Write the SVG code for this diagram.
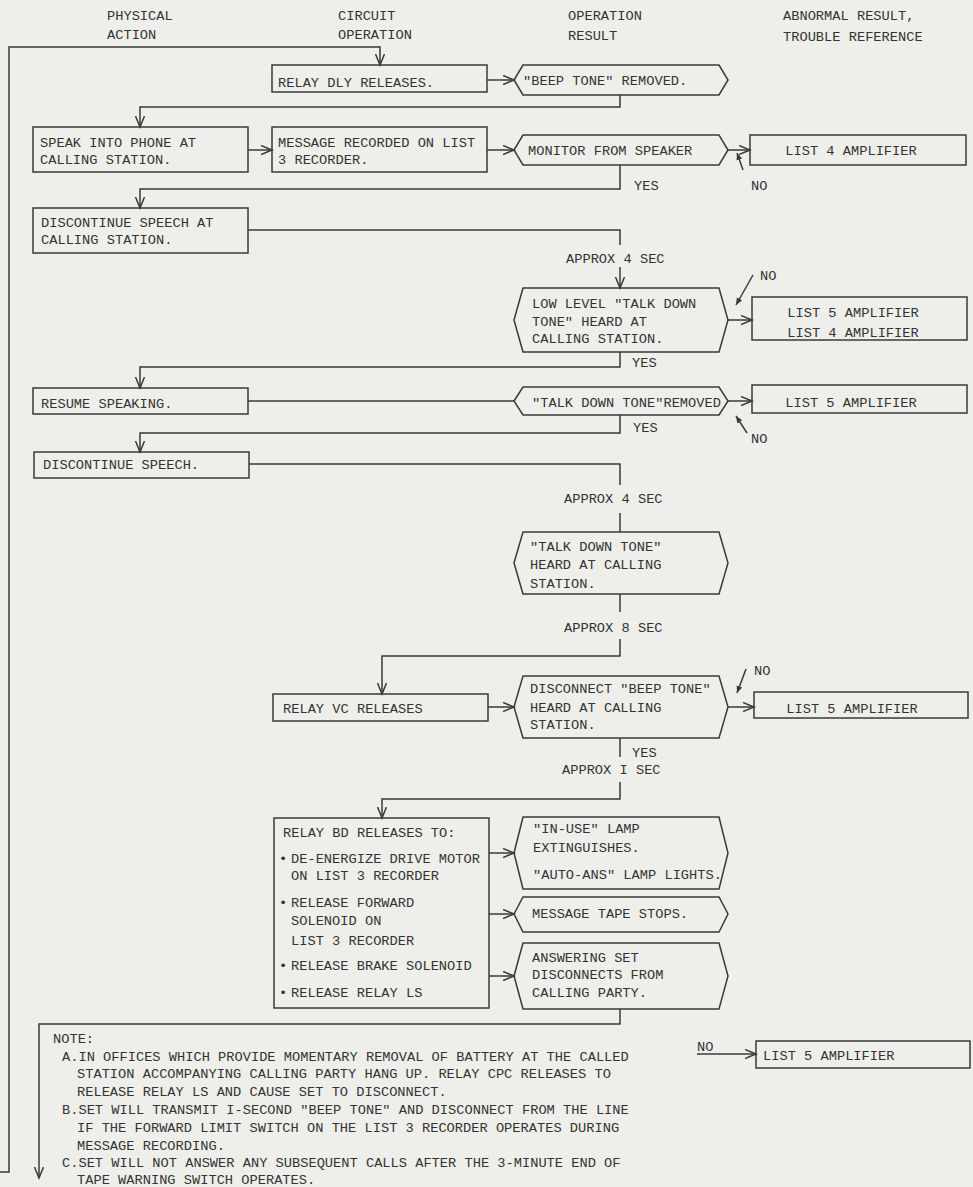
<svg xmlns="http://www.w3.org/2000/svg" width="973" height="1187" viewBox="0 0 973 1187">
<defs>
<style>
text{font-family:"Liberation Mono","DejaVu Sans Mono",monospace;font-size:13.7px;fill:#333}
.n rect,.n polygon{fill:none;stroke:#3a3a3a;stroke-width:1.5}
.c path{fill:none;stroke:#3a3a3a;stroke-width:1.5}
.m{text-anchor:middle}
</style>
<marker id="a" markerUnits="userSpaceOnUse" markerWidth="14" markerHeight="12" refX="11" refY="5" orient="auto">
<path d="M0,0.5 L11,5 L0,9.5" fill="none" stroke="#3a3a3a" stroke-width="1.5"/>
</marker>
<marker id="s" markerUnits="userSpaceOnUse" markerWidth="10" markerHeight="8" refX="7" refY="3" orient="auto">
<path d="M0,0 L7,3 L0,6 Z" fill="#3a3a3a"/>
</marker>
</defs>
<rect width="973" height="1187" fill="#eeeeea"/>

<g id="headers">
<text x="107" y="20">PHYSICAL</text><text x="107" y="39">ACTION</text>
<text x="338" y="20">CIRCUIT</text><text x="338" y="39">OPERATION</text>
<text x="568" y="20">OPERATION</text><text x="568" y="40">RESULT</text>
<text x="783" y="20">ABNORMAL RESULT,</text><text x="783" y="41">TROUBLE REFERENCE</text>
</g>

<g class="c" id="connectors">
<path d="M0,1172 H9 V47 H380 V65" marker-end="url(#a)"/>
<path d="M487,80 H514" marker-end="url(#a)"/>
<path d="M620,95 V107 H140 V127" marker-end="url(#a)"/>
<path d="M248,150 H272" marker-end="url(#a)"/>
<path d="M487,150 H514" marker-end="url(#a)"/>
<path d="M728,150 H750" marker-end="url(#a)"/>
<path d="M620,165 V189 H140 V208" marker-end="url(#a)"/>
<path d="M248,230 H620 V245"/>
<path d="M620,267 V288" marker-end="url(#a)"/>
<path d="M728,320 H752" marker-end="url(#a)"/>
<path d="M620,352 V367 H140 V388" marker-end="url(#a)"/>
<path d="M248,401 H514"/>
<path d="M728,401 H752" marker-end="url(#a)"/>
<path d="M620,415 V433 H140 V452" marker-end="url(#a)"/>
<path d="M249,464 H620 V485"/>
<path d="M620,513 V532"/>
<path d="M620,594 V612"/>
<path d="M620,639 V656 H382 V694" marker-end="url(#a)"/>
<path d="M488,707 H514" marker-end="url(#a)"/>
<path d="M728,707 H754" marker-end="url(#a)"/>
<path d="M620,738 V757"/>
<path d="M620,782 V799 H382 V818" marker-end="url(#a)"/>
<path d="M489,853 H514" marker-end="url(#a)"/>
<path d="M489,914 H514" marker-end="url(#a)"/>
<path d="M489,976 H514" marker-end="url(#a)"/>
<path d="M620,1009 V1024 H39 V1178" marker-end="url(#a)"/>
<path d="M697,1054 H756" marker-end="url(#a)"/>
<path d="M743,170 L737,153" marker-end="url(#s)"/>
<path d="M753,275 L736,305" marker-end="url(#s)"/>
<path d="M747,433 L736,416" marker-end="url(#s)"/>
<path d="M746,669 L737,693" marker-end="url(#s)"/>
</g>

<g id="labels">
<text x="634" y="190">YES</text><text x="751" y="190">NO</text>
<text x="566" y="263">APPROX 4 SEC</text>
<text x="760" y="280">NO</text>
<text x="632" y="367">YES</text>
<text x="633" y="432">YES</text><text x="751" y="443">NO</text>
<text x="564" y="503">APPROX 4 SEC</text>
<text x="564" y="632">APPROX 8 SEC</text>
<text x="754" y="675">NO</text>
<text x="632" y="757">YES</text>
<text x="562" y="774">APPROX I SEC</text>
<text x="697" y="1051">NO</text>
</g>

<g class="n" id="n-dly"><rect x="272" y="65" width="215" height="27"/><text x="278" y="87">RELAY DLY RELEASES.</text></g>
<g class="n" id="n-beep"><polygon points="514,80 523,65 719,65 728,80 719,95 523,95"/><text x="523" y="85">"BEEP TONE" REMOVED.</text></g>
<g class="n" id="n-speak"><rect x="33" y="127" width="215" height="45"/><text x="40" y="147">SPEAK INTO PHONE AT</text><text x="40" y="164">CALLING STATION.</text></g>
<g class="n" id="n-msg"><rect x="272" y="127" width="215" height="45"/><text x="278" y="147">MESSAGE RECORDED ON LIST</text><text x="278" y="164">3 RECORDER.</text></g>
<g class="n" id="n-monitor"><polygon points="514,150 523,135 719,135 728,150 719,165 523,165"/><text x="528" y="155">MONITOR FROM SPEAKER</text></g>
<g class="n" id="n-l4"><rect x="750" y="135" width="216" height="30"/><text class="m" x="851" y="155">LIST 4 AMPLIFIER</text></g>
<g class="n" id="n-disc1"><rect x="33" y="208" width="215" height="45"/><text x="41" y="227">DISCONTINUE SPEECH AT</text><text x="41" y="244">CALLING STATION.</text></g>
<g class="n" id="n-low"><polygon points="514,320 523,288 719,288 728,320 719,352 523,352"/><text x="532" y="308">LOW LEVEL "TALK DOWN</text><text x="532" y="326">TONE" HEARD AT</text><text x="532" y="343">CALLING STATION.</text></g>
<g class="n" id="n-l54"><rect x="752" y="297" width="215" height="43"/><text class="m" x="853" y="317">LIST 5 AMPLIFIER</text><text class="m" x="853" y="337">LIST 4 AMPLIFIER</text></g>
<g class="n" id="n-resume"><rect x="33" y="388" width="215" height="26"/><text x="41" y="408">RESUME SPEAKING.</text></g>
<g class="n" id="n-tdtr"><polygon points="514,401 523,387 719,387 728,401 719,415 523,415"/><text x="532" y="407">"TALK DOWN TONE"REMOVED</text></g>
<g class="n" id="n-l5a"><rect x="752" y="385" width="215" height="28"/><text class="m" x="851" y="407">LIST 5 AMPLIFIER</text></g>
<g class="n" id="n-disc2"><rect x="34" y="452" width="215" height="26"/><text x="43" y="469">DISCONTINUE SPEECH.</text></g>
<g class="n" id="n-tdth"><polygon points="514,563 523,532 719,532 728,563 719,594 523,594"/><text x="530" y="551">"TALK DOWN TONE"</text><text x="530" y="569">HEARD AT CALLING</text><text x="530" y="588">STATION.</text></g>
<g class="n" id="n-vc"><rect x="273" y="694" width="215" height="27"/><text x="283" y="713">RELAY VC RELEASES</text></g>
<g class="n" id="n-discbeep"><polygon points="514,707 523,676 719,676 728,707 719,738 523,738"/><text x="530" y="693">DISCONNECT "BEEP TONE"</text><text x="530" y="712">HEARD AT CALLING</text><text x="530" y="729">STATION.</text></g>
<g class="n" id="n-l5b"><rect x="754" y="692" width="214" height="26"/><text class="m" x="852" y="713">LIST 5 AMPLIFIER</text></g>
<g class="n" id="n-bd"><rect x="274" y="818" width="215" height="190"/>
<text x="283" y="837">RELAY BD RELEASES TO:</text>
<text x="279" y="863">•</text><text x="291" y="863">DE-ENERGIZE DRIVE MOTOR</text>
<text x="291" y="880">ON LIST 3 RECORDER</text>
<text x="279" y="907">•</text><text x="291" y="907">RELEASE FORWARD</text>
<text x="291" y="925">SOLENOID ON</text>
<text x="291" y="945">LIST 3 RECORDER</text>
<text x="279" y="970">•</text><text x="291" y="970">RELEASE BRAKE SOLENOID</text>
<text x="279" y="997">•</text><text x="291" y="997">RELEASE RELAY LS</text></g>
<g class="n" id="n-lamp"><polygon points="514,853 523,817 719,817 728,853 719,889 523,889"/><text x="533" y="833">"IN-USE" LAMP</text><text x="533" y="852">EXTINGUISHES.</text><text x="533" y="879">"AUTO-ANS" LAMP LIGHTS.</text></g>
<g class="n" id="n-tape"><polygon points="514,914 523,897 719,897 728,914 719,932 523,932"/><text x="532" y="918">MESSAGE TAPE STOPS.</text></g>
<g class="n" id="n-ans"><polygon points="514,976 523,943 719,943 728,976 719,1009 523,1009"/><text x="532" y="962">ANSWERING SET</text><text x="532" y="979">DISCONNECTS FROM</text><text x="532" y="997">CALLING PARTY.</text></g>
<g class="n" id="n-l5c"><rect x="756" y="1041" width="214" height="27"/><text x="763" y="1060">LIST 5 AMPLIFIER</text></g>

<g id="note">
<text x="53" y="1043">NOTE:</text>
<text x="62" y="1061">A.IN OFFICES WHICH PROVIDE MOMENTARY REMOVAL OF BATTERY AT THE CALLED</text>
<text x="77" y="1078">STATION ACCOMPANYING CALLING PARTY HANG UP. RELAY CPC RELEASES TO</text>
<text x="77" y="1096">RELEASE RELAY LS AND CAUSE SET TO DISCONNECT.</text>
<text x="62" y="1114">B.SET WILL TRANSMIT I-SECOND "BEEP TONE" AND DISCONNECT FROM THE LINE</text>
<text x="77" y="1132">IF THE FORWARD LIMIT SWITCH ON THE LIST 3 RECORDER OPERATES DURING</text>
<text x="77" y="1150">MESSAGE RECORDING.</text>
<text x="62" y="1167">C.SET WILL NOT ANSWER ANY SUBSEQUENT CALLS AFTER THE 3-MINUTE END OF</text>
<text x="77" y="1184">TAPE WARNING SWITCH OPERATES.</text>
</g>
</svg>
